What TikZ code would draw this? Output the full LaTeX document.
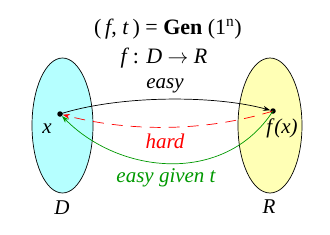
\documentclass[tikz,border=0pt]{standalone}
\usepackage{fontspec}
\setmainfont{Liberation Serif}
\usetikzlibrary{arrows.meta}
\definecolor{cyanfill}{RGB}{181,255,255}
\definecolor{yelfill}{RGB}{255,255,181}
\definecolor{mygreen}{RGB}{0,153,0}
\begin{document}
\begin{tikzpicture}[x=1pt,y=-1pt,
  setshape/.style={draw=black,line width=0.7pt},
  lbl/.style={font=\fontsize{21}{23}\selectfont\itshape,inner sep=0pt},
  ttl/.style={font=\fontsize{22}{24}\selectfont,inner sep=0pt},
  pt/.style={circle,fill=black,inner sep=0pt,minimum size=5.5pt},
  arr/.style={-{Stealth[length=7pt,width=5pt]},line width=0.7pt}]
\useasboundingbox (0,0) rectangle (330,234);
\fill[white] (0,0) rectangle (330,234);
\draw[setshape,fill=cyanfill] (62.5,125.5) ellipse [x radius=30.5,y radius=67.5];
\draw[setshape,fill=yelfill] (270,125.5) ellipse [x radius=32,y radius=67.5];
\node[ttl] (title) at (168,29) {(\,\textit{f}, \textit{t}\,) = \textbf{Gen} (1\textsuperscript{n})};
\node[ttl] (map) at (164,58) {\textit{f}\,: \textit{D} $\rightarrow$ \textit{R}};
\node[pt] (x) at (60,114) {};
\node[pt] (fx) at (273,111) {};
\node[lbl] (xl) at (47,129) {x};
\node[lbl] (fxl) at (282,128) {f\kern2pt(x)};
\node[lbl] (D) at (62,208) {D};
\node[lbl] (R) at (269,207) {R};
\draw[arr,black] (x.center) .. controls (120,95) and (215,95) .. (fx);
\draw[arr,red,dash pattern=on 11pt off 8pt] (fx.center) .. controls (205,132) and (130,132) .. (x);
\draw[arr,mygreen] (fx.center) .. controls (225,185) and (120,175) .. (x);
\node[lbl] (easy) at (165,86) {easy};
\node[lbl,red] (hard) at (165,141) {hard};
\node[lbl,mygreen] (given) at (166,178) {easy given t};
\end{tikzpicture}
\end{document}
